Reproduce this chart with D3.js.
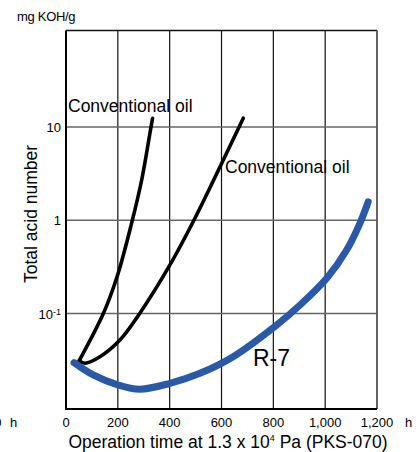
<!DOCTYPE html>
<html>
<head>
<meta charset="utf-8">
<script src="https://cdn.jsdelivr.net/npm/d3@7"></script>
<style>
  body { margin: 0; background: #fff; }
  svg { display: block; font-family: Arial, "Liberation Sans", sans-serif; }
</style>
</head>
<body>
<div id="chart"></div>
<script>
// data
var xTicks = [0, 200, 400, 600, 800, 1000, 1200]
var yTicks = [10, 1, 0.1]

var convHours1 = [51, 144, 197, 253, 292, 324, 334]
var convTan1 = [0.0313, 0.1, 0.248, 0.927, 2.70, 8.6, 12.4]

var convHours2 = [51, 73, 131, 208, 285, 401, 498, 594, 684]
var convTan2 = [0.0313, 0.0294, 0.0345, 0.0521, 0.101, 0.332, 1.057, 3.72, 12.4]

var r7Hours = [31, 105, 200, 285, 401, 517, 645, 813, 903, 1006, 1083, 1134, 1166]
var r7Tan = [0.0298, 0.022, 0.0172, 0.0155, 0.0179, 0.0229, 0.0345, 0.0755, 0.1236, 0.239, 0.48, 0.927, 1.58]

var width = 418, height = 452
// plot box (window.top is reserved, so use other names)
var plotL = 66, plotR = 377, plotT = 30.5, plotB = 409

var svg = d3.select("#chart").append("svg")
  .attr("width", width)
  .attr("height", height)

var x = d3.scaleLinear().domain([0, 1200]).range([plotL, plotR])
var y = d3.scaleLog().domain([0.0095, 108]).range([plotB, plotT])

// vertical grid
svg.append("g")
  .selectAll("line")
  .data(xTicks.slice(1, -1))
  .enter().append("line")
  .attr("x1", d => x(d)).attr("x2", d => x(d))
  .attr("y1", plotT).attr("y2", plotB)
  .attr("stroke", "#111").attr("stroke-width", 1.2)

// horizontal grid
svg.append("g")
  .selectAll("line")
  .data(yTicks)
  .enter().append("line")
  .attr("x1", plotL).attr("x2", plotR)
  .attr("y1", d => y(d)).attr("y2", d => y(d))
  .attr("stroke", "#666").attr("stroke-width", 1.5)

// frame
svg.append("line").attr("x1", plotL).attr("x2", plotR).attr("y1", plotT).attr("y2", plotT)
  .attr("stroke", "#111").attr("stroke-width", 1.5)
svg.append("line").attr("x1", plotR).attr("x2", plotR).attr("y1", plotT).attr("y2", plotB)
  .attr("stroke", "#555").attr("stroke-width", 1.8)
svg.append("line").attr("x1", plotL).attr("x2", plotL).attr("y1", plotT).attr("y2", plotB + 1)
  .attr("stroke", "#000").attr("stroke-width", 2)
svg.append("line").attr("x1", plotL).attr("x2", plotR).attr("y1", plotB).attr("y2", plotB)
  .attr("stroke", "#000").attr("stroke-width", 2)

// x tick labels
var fmt = d3.format(",")
svg.append("g")
  .selectAll("text")
  .data(xTicks)
  .enter().append("text")
  .attr("x", d => x(d))
  .attr("y", 427)
  .attr("text-anchor", "middle")
  .style("font-size", "13px")
  .text(d => fmt(d))

svg.append("text").attr("x", 405).attr("y", 427).style("font-size", "13px").text("h")
svg.append("text").attr("x", 10).attr("y", 427).style("font-size", "13px").text("h")
svg.append("text").attr("x", 1.5).attr("y", 427).attr("text-anchor", "end").style("font-size", "13px").text("0")

// y tick labels
var yl = svg.append("g")
  .selectAll("text")
  .data(yTicks)
  .enter().append("text")
  .attr("x", 61)
  .attr("y", d => y(d) + 5)
  .attr("text-anchor", "end")
  .style("font-size", "13px")
yl.each(function(d) {
  var t = d3.select(this)
  if (d < 1) {
    t.append("tspan").text("10")
    t.append("tspan").attr("dy", -4).style("font-size", "9px").text("-1")
  } else {
    t.text(d)
  }
})

svg.append("text").attr("x", 17).attr("y", 21).style("font-size", "13px")
  .style("letter-spacing", "-0.3px").text("mg KOH/g")

svg.append("text")
  .attr("transform", "translate(37," + 214 + ") rotate(-90)")
  .attr("text-anchor", "middle")
  .style("font-size", "17.5px")
  .text("Total acid number")

var xt = svg.append("text").attr("x", 228).attr("y", 448)
  .attr("text-anchor", "middle").style("font-size", "17.5px")
xt.append("tspan").text("Operation time at 1.3 x 10")
xt.append("tspan").attr("dy", -7).style("font-size", "9px").text("4")
xt.append("tspan").attr("dy", 7).text(" Pa (PKS-070)")

// curves
var line = d3.line()
  .x(d => x(d[0]))
  .y(d => y(d[1]))
  .curve(d3.curveCatmullRom.alpha(0.5))

svg.append("path")
  .datum(d3.zip(convHours1, convTan1))
  .attr("d", line)
  .attr("fill", "none").attr("stroke", "#000").attr("stroke-width", 3.6)
  .attr("stroke-linecap", "round").attr("stroke-linejoin", "round")

svg.append("path")
  .datum(d3.zip(convHours2, convTan2))
  .attr("d", line)
  .attr("fill", "none").attr("stroke", "#000").attr("stroke-width", 3.6)
  .attr("stroke-linecap", "round").attr("stroke-linejoin", "round")

svg.append("path")
  .datum(d3.zip(r7Hours, r7Tan))
  .attr("d", line)
  .attr("fill", "none").attr("stroke", "#2a59a7").attr("stroke-width", 7)
  .attr("stroke-linecap", "round").attr("stroke-linejoin", "round")

// labels
svg.append("text").attr("x", 68).attr("y", 112).style("font-size", "17.5px").text("Conventional oil")
svg.append("text").attr("x", 225).attr("y", 173).style("font-size", "17.5px").text("Conventional oil")
svg.append("text").attr("x", 253).attr("y", 366).style("font-size", "23px").text("R-7")
</script>
</body>
</html>
